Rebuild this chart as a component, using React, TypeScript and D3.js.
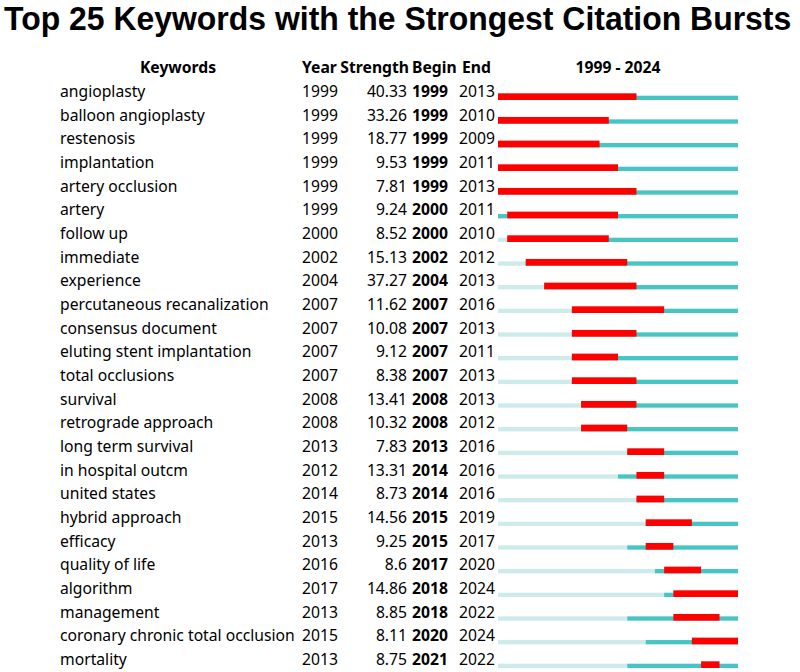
import React, { useLayoutEffect, useRef, useState } from "react";
import * as d3 from "d3";

const keywords = [
  "angioplasty", "balloon angioplasty", "restenosis", "implantation", "artery occlusion",
  "artery", "follow up", "immediate", "experience", "percutaneous recanalization",
  "consensus document", "eluting stent implantation", "total occlusions", "survival",
  "retrograde approach", "long term survival", "in hospital outcm", "united states",
  "hybrid approach", "efficacy", "quality of life", "algorithm", "management",
  "coronary chronic total occlusion", "mortality",
];
const years = [1999, 1999, 1999, 1999, 1999, 1999, 2000, 2002, 2004, 2007, 2007, 2007, 2007, 2008, 2008, 2013, 2012, 2014, 2015, 2013, 2016, 2017, 2013, 2015, 2013];
const strengths = ["40.33", "33.26", "18.77", "9.53", "7.81", "9.24", "8.52", "15.13", "37.27", "11.62", "10.08", "9.12", "8.38", "13.41", "10.32", "7.83", "13.31", "8.73", "14.56", "9.25", "8.6", "14.86", "8.85", "8.11", "8.75"];
const begins = [1999, 1999, 1999, 1999, 1999, 2000, 2000, 2002, 2004, 2007, 2007, 2007, 2007, 2008, 2008, 2013, 2014, 2014, 2015, 2015, 2017, 2018, 2018, 2020, 2021];
const ends = [2013, 2010, 2009, 2011, 2013, 2011, 2010, 2012, 2013, 2016, 2013, 2011, 2013, 2013, 2012, 2016, 2016, 2016, 2019, 2017, 2020, 2024, 2022, 2024, 2022];
const startYear = 1999;
const endYear = 2024;
const title = "Top 25 Keywords with the Strongest Citation Bursts";
const headers = ["Keywords", "Year", "Strength", "Begin", "End", "1999 - 2024"];

const FONT = "'Noto Sans', 'Open Sans', sans-serif";
const TITLE_FONT = "'Liberation Sans', Arial, sans-serif";
const RED = "#FF0000";
const TEAL = "#47C4C4";
const LIGHT = "#CDEBEB";

export default function App() {
  const W = 800, H = 672;
  const x = d3.scaleLinear().domain([startYear, endYear + 1]).range([498, 738]);
  const y = d3.scaleLinear().domain([0, 24]).range([97, 665]);
  const fs = 15.7;
  const titleRef = useRef<SVGTextElement>(null);
  const [sx, setSx] = useState(0.85);

  useLayoutEffect(() => {
    if (titleRef.current) {
      const w = titleRef.current.getComputedTextLength();
      if (w > 0) setSx(787 / w);
    }
  }, []);

  return (
    <svg width={W} height={H} style={{ position: "absolute", left: 0, top: 0, background: "#fff" }} fontFamily={FONT}>
      <g transform={`translate(4,30) scale(${sx},1)`}>
        <text ref={titleRef} x={0} y={0} fontFamily={TITLE_FONT} fontSize={33} fontWeight="bold" fill="#000">{title}</text>
      </g>
      <g fontWeight="bold" fontSize={fs} fill="#000">
        <text x={178} y={73} textAnchor="middle">{headers[0]}</text>
        <text x={302} y={73}>{headers[1]}</text>
        <text x={409} y={73} textAnchor="end">{headers[2]}</text>
        <text x={412} y={73}>{headers[3]}</text>
        <text x={462} y={73}>{headers[4]}</text>
        <text x={618} y={73} textAnchor="middle">{headers[5]}</text>
      </g>
      {keywords.map((k, i) => {
        const by = y(i);
        return (
          <g key={k} fontSize={fs} fill="#000">
            <text x={60} y={by}>{k}</text>
            <text x={302} y={by}>{years[i]}</text>
            <text x={407} y={by} textAnchor="end">{strengths[i]}</text>
            <text x={412} y={by} fontWeight="bold">{begins[i]}</text>
            <text x={459} y={by}>{ends[i]}</text>
            <rect x={x(startYear)} y={by - 1.3} width={x(years[i]) - x(startYear)} height={4.3} fill={LIGHT} />
            <rect x={x(years[i])} y={by - 1.3} width={x(endYear + 1) - x(years[i])} height={4.3} fill={TEAL} />
            <rect x={x(begins[i])} y={by - 3.7} width={x(ends[i] + 1) - x(begins[i])} height={6.7} fill={RED} />
          </g>
        );
      })}
    </svg>
  );
}
